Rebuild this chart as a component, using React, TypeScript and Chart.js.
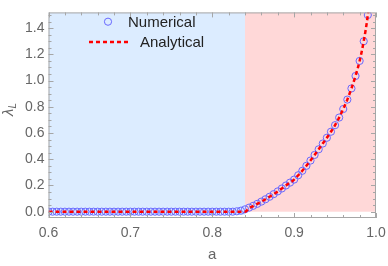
import React, { useEffect, useRef } from "react";
import { Chart, registerables } from "chart.js";
Chart.register(...registerables);

// Numerical data (blue open circles)
const numA = [
  0.6, 0.605, 0.61, 0.615, 0.62, 0.625, 0.63, 0.635, 0.64, 0.645,
  0.65, 0.655, 0.66, 0.665, 0.67, 0.675, 0.68, 0.685, 0.69, 0.695,
  0.7, 0.705, 0.71, 0.715, 0.72, 0.725, 0.73, 0.735, 0.74, 0.745,
  0.75, 0.755, 0.76, 0.765, 0.77, 0.775, 0.78, 0.785, 0.79, 0.795,
  0.8, 0.805, 0.81, 0.815, 0.82, 0.825, 0.83, 0.835, 0.84, 0.845,
  0.85, 0.855, 0.86, 0.865, 0.87, 0.875, 0.88, 0.885, 0.89, 0.895,
  0.9, 0.905, 0.91, 0.915, 0.92, 0.925, 0.93, 0.935, 0.94, 0.945,
  0.95, 0.955, 0.96, 0.965, 0.97, 0.975, 0.98, 0.985, 0.99,
];
const numL = [
  0, 0, 0, 0, 0, 0, 0, 0, 0, 0,
  0, 0, 0, 0, 0, 0, 0, 0, 0, 0,
  0, 0, 0, 0, 0, 0, 0, 0, 0, 0,
  0, 0, 0, 0, 0, 0, 0, 0, 0, 0,
  0, 0, 0, 0, 0, 0, 0.003, 0.008, 0.018, 0.031,
  0.045, 0.06, 0.077, 0.095, 0.114, 0.134, 0.155, 0.177, 0.2, 0.222,
  0.245, 0.278, 0.312, 0.35, 0.39, 0.433, 0.476, 0.52, 0.564, 0.61,
  0.66, 0.718, 0.783, 0.855, 0.94, 1.035, 1.15, 1.3, 1.5,
];

// Analytical curve (red dashed)
const anaA = [
  0.6, 0.84, 0.845, 0.85, 0.855, 0.86, 0.865, 0.87, 0.875, 0.88, 0.885, 0.89, 0.895,
  0.9, 0.905, 0.91, 0.915, 0.92, 0.925, 0.93, 0.935, 0.94, 0.945,
  0.95, 0.955, 0.96, 0.965, 0.97, 0.975, 0.98, 0.985, 0.99, 0.995,
];
const anaL = [
  0, 0, 0.025, 0.043, 0.06, 0.077, 0.095, 0.114, 0.134, 0.155, 0.177, 0.2, 0.222,
  0.245, 0.278, 0.312, 0.35, 0.39, 0.433, 0.476, 0.52, 0.564, 0.61,
  0.66, 0.718, 0.783, 0.855, 0.94, 1.035, 1.15, 1.3, 1.5, 1.8,
];

const seriesNames = ["Numerical", "Analytical"];
const xMajor = [0.6, 0.7, 0.8, 0.9, 1.0];
const xMinor = [0.62, 0.64, 0.66, 0.68, 0.72, 0.74, 0.76, 0.78, 0.82, 0.84, 0.86, 0.88, 0.92, 0.94, 0.96, 0.98];
const yMajor = [0, 0.2, 0.4, 0.6, 0.8, 1.0, 1.2, 1.4];
const yMinor = [0.05, 0.1, 0.15, 0.25, 0.3, 0.35, 0.45, 0.5, 0.55, 0.65, 0.7, 0.75, 0.85, 0.9, 0.95, 1.05, 1.1, 1.15, 1.25, 1.3, 1.35, 1.45, 1.5];
const regionEdges = [0.6, 0.84, 1.0];
const regionBottoms = [-0.025, 0];
const regionColors = ["#dcecff", "#ffd8d8"];

const X_MIN = 0.6, X_MAX = 1.0, Y_MIN = -0.048, Y_MAX = 1.52;
const FONT = "'Liberation Sans', Arial, sans-serif";
const GRAY = "#666666";
const FRAME = "#a6a6a6";
const BLUE = "rgb(105,105,255)";
const RED = "rgb(255,0,0)";

const framePlugin = {
  id: "framePlugin",
  beforeDatasetsDraw(chart: any) {
    const { ctx, chartArea: ca, scales } = chart;
    const x = scales.x, y = scales.y;
    ctx.save();
    ctx.beginPath();
    ctx.rect(ca.left, ca.top, ca.right - ca.left, ca.bottom - ca.top);
    ctx.clip();
    for (let i = 0; i < regionColors.length; i++) {
      const x0 = x.getPixelForValue(regionEdges[i]);
      const x1 = x.getPixelForValue(regionEdges[i + 1]);
      const yb = y.getPixelForValue(regionBottoms[i]);
      ctx.fillStyle = regionColors[i];
      ctx.fillRect(x0, ca.top, x1 - x0, yb - ca.top);
    }
    ctx.restore();
  },
  afterDatasetsDraw(chart: any) {
    const { ctx, chartArea: ca, scales } = chart;
    const x = scales.x, y = scales.y;
    ctx.save();
    ctx.strokeStyle = FRAME;
    ctx.lineWidth = 1;
    ctx.strokeRect(ca.left + 0.5, ca.top + 0.5, ca.right - ca.left - 1, ca.bottom - ca.top - 1);
    const tick = (vals: number[], len: number) => {
      ctx.beginPath();
      for (const v of vals) {
        const px = Math.round(x.getPixelForValue(v)) + 0.5;
        ctx.moveTo(px, ca.bottom);
        ctx.lineTo(px, ca.bottom - len);
        ctx.moveTo(px, ca.top);
        ctx.lineTo(px, ca.top + len);
      }
      ctx.stroke();
    };
    const tickY = (vals: number[], len: number) => {
      ctx.beginPath();
      for (const v of vals) {
        const py = Math.round(y.getPixelForValue(v)) + 0.5;
        ctx.moveTo(ca.left, py);
        ctx.lineTo(ca.left + len, py);
        ctx.moveTo(ca.right, py);
        ctx.lineTo(ca.right - len, py);
      }
      ctx.stroke();
    };
    tick(xMajor, 5);
    tick(xMinor, 3);
    tickY(yMajor, 5);
    tickY(yMinor, 3);

    // Legend
    ctx.fillStyle = "#222";
    ctx.font = `15px ${FONT}`;
    ctx.textBaseline = "middle";
    ctx.textAlign = "left";
    ctx.strokeStyle = BLUE;
    ctx.lineWidth = 1;
    ctx.beginPath();
    ctx.arc(108, 21.7, 3.6, 0, Math.PI * 2);
    ctx.stroke();
    ctx.fillText(seriesNames[0], 128, 22.5);
    ctx.strokeStyle = RED;
    ctx.lineWidth = 2.5;
    ctx.setLineDash([4, 3]);
    ctx.beginPath();
    ctx.moveTo(89, 42);
    ctx.lineTo(129, 42);
    ctx.stroke();
    ctx.setLineDash([]);
    ctx.fillText(seriesNames[1], 140, 43);

    // Axis titles
    ctx.fillStyle = GRAY;
    ctx.font = `15px ${FONT}`;
    ctx.textAlign = "center";
    ctx.fillText("a", (ca.left + ca.right) / 2, 255);
    ctx.translate(9, 116);
    ctx.rotate(-Math.PI / 2);
    ctx.textAlign = "left";
    ctx.font = `italic 15px ${FONT}`;
    ctx.fillText("λ", 0, 0);
    const w = ctx.measureText("λ").width;
    ctx.font = `italic 10px ${FONT}`;
    ctx.fillText("L", w, 4);
    ctx.restore();
  },
};

export default function App() {
  const ref = useRef<HTMLCanvasElement>(null);
  useEffect(() => {
    if (!ref.current) return;
    const chart = new Chart(ref.current, {
      type: "scatter",
      data: {
        datasets: [
          {
            label: seriesNames[1],
            data: anaA.map((a, i) => ({ x: a, y: anaL[i] })),
            showLine: true,
            borderColor: RED,
            borderWidth: 2.5,
            borderDash: [4, 3],
            pointRadius: 0,
            cubicInterpolationMode: "monotone",
            order: 0,
          },
          {
            label: seriesNames[0],
            data: numA.map((a, i) => ({ x: a, y: numL[i] })),
            showLine: false,
            pointRadius: 3.6,
            pointBorderWidth: 1,
            pointBorderColor: BLUE,
            pointBackgroundColor: "rgba(0,0,0,0)",
            order: 1,
          },
        ],
      },
      options: {
        animation: false,
        responsive: false,
        maintainAspectRatio: false,
        layout: { padding: { top: 1, right: 0, left: 0, bottom: 0 } },
        plugins: { legend: { display: false }, tooltip: { enabled: false } },
        scales: {
          x: {
            type: "linear",
            min: X_MIN,
            max: X_MAX,
            grid: { display: false, drawTicks: false },
            border: { display: false },
            afterBuildTicks: (s: any) => { s.ticks = xMajor.map((v) => ({ value: v })); },
            afterFit: (s: any) => { s.height = 48; s.paddingLeft = 0; s.paddingRight = 12; },
            ticks: {
              padding: 7,
              color: GRAY,
              font: { family: FONT, size: 14 },
              callback: (v: any) => Number(v).toFixed(1),
              maxRotation: 0,
            },
          },
          y: {
            type: "linear",
            min: Y_MIN,
            max: Y_MAX,
            grid: { display: false, drawTicks: false },
            border: { display: false },
            afterBuildTicks: (s: any) => { s.ticks = yMajor.map((v) => ({ value: v })); },
            afterFit: (s: any) => { s.width = 48.5; },
            ticks: {
              padding: 4,
              color: GRAY,
              font: { family: FONT, size: 14 },
              callback: (v: any) => Number(v).toFixed(1),
            },
          },
        },
      },
      plugins: [framePlugin],
    } as any);
    return () => chart.destroy();
  }, []);
  return (
    <div style={{ position: "fixed", left: 0, top: 0, width: 388, height: 266, background: "#fff" }}>
      <canvas ref={ref} width={388} height={266} style={{ width: 388, height: 266, display: "block" }} />
    </div>
  );
}
